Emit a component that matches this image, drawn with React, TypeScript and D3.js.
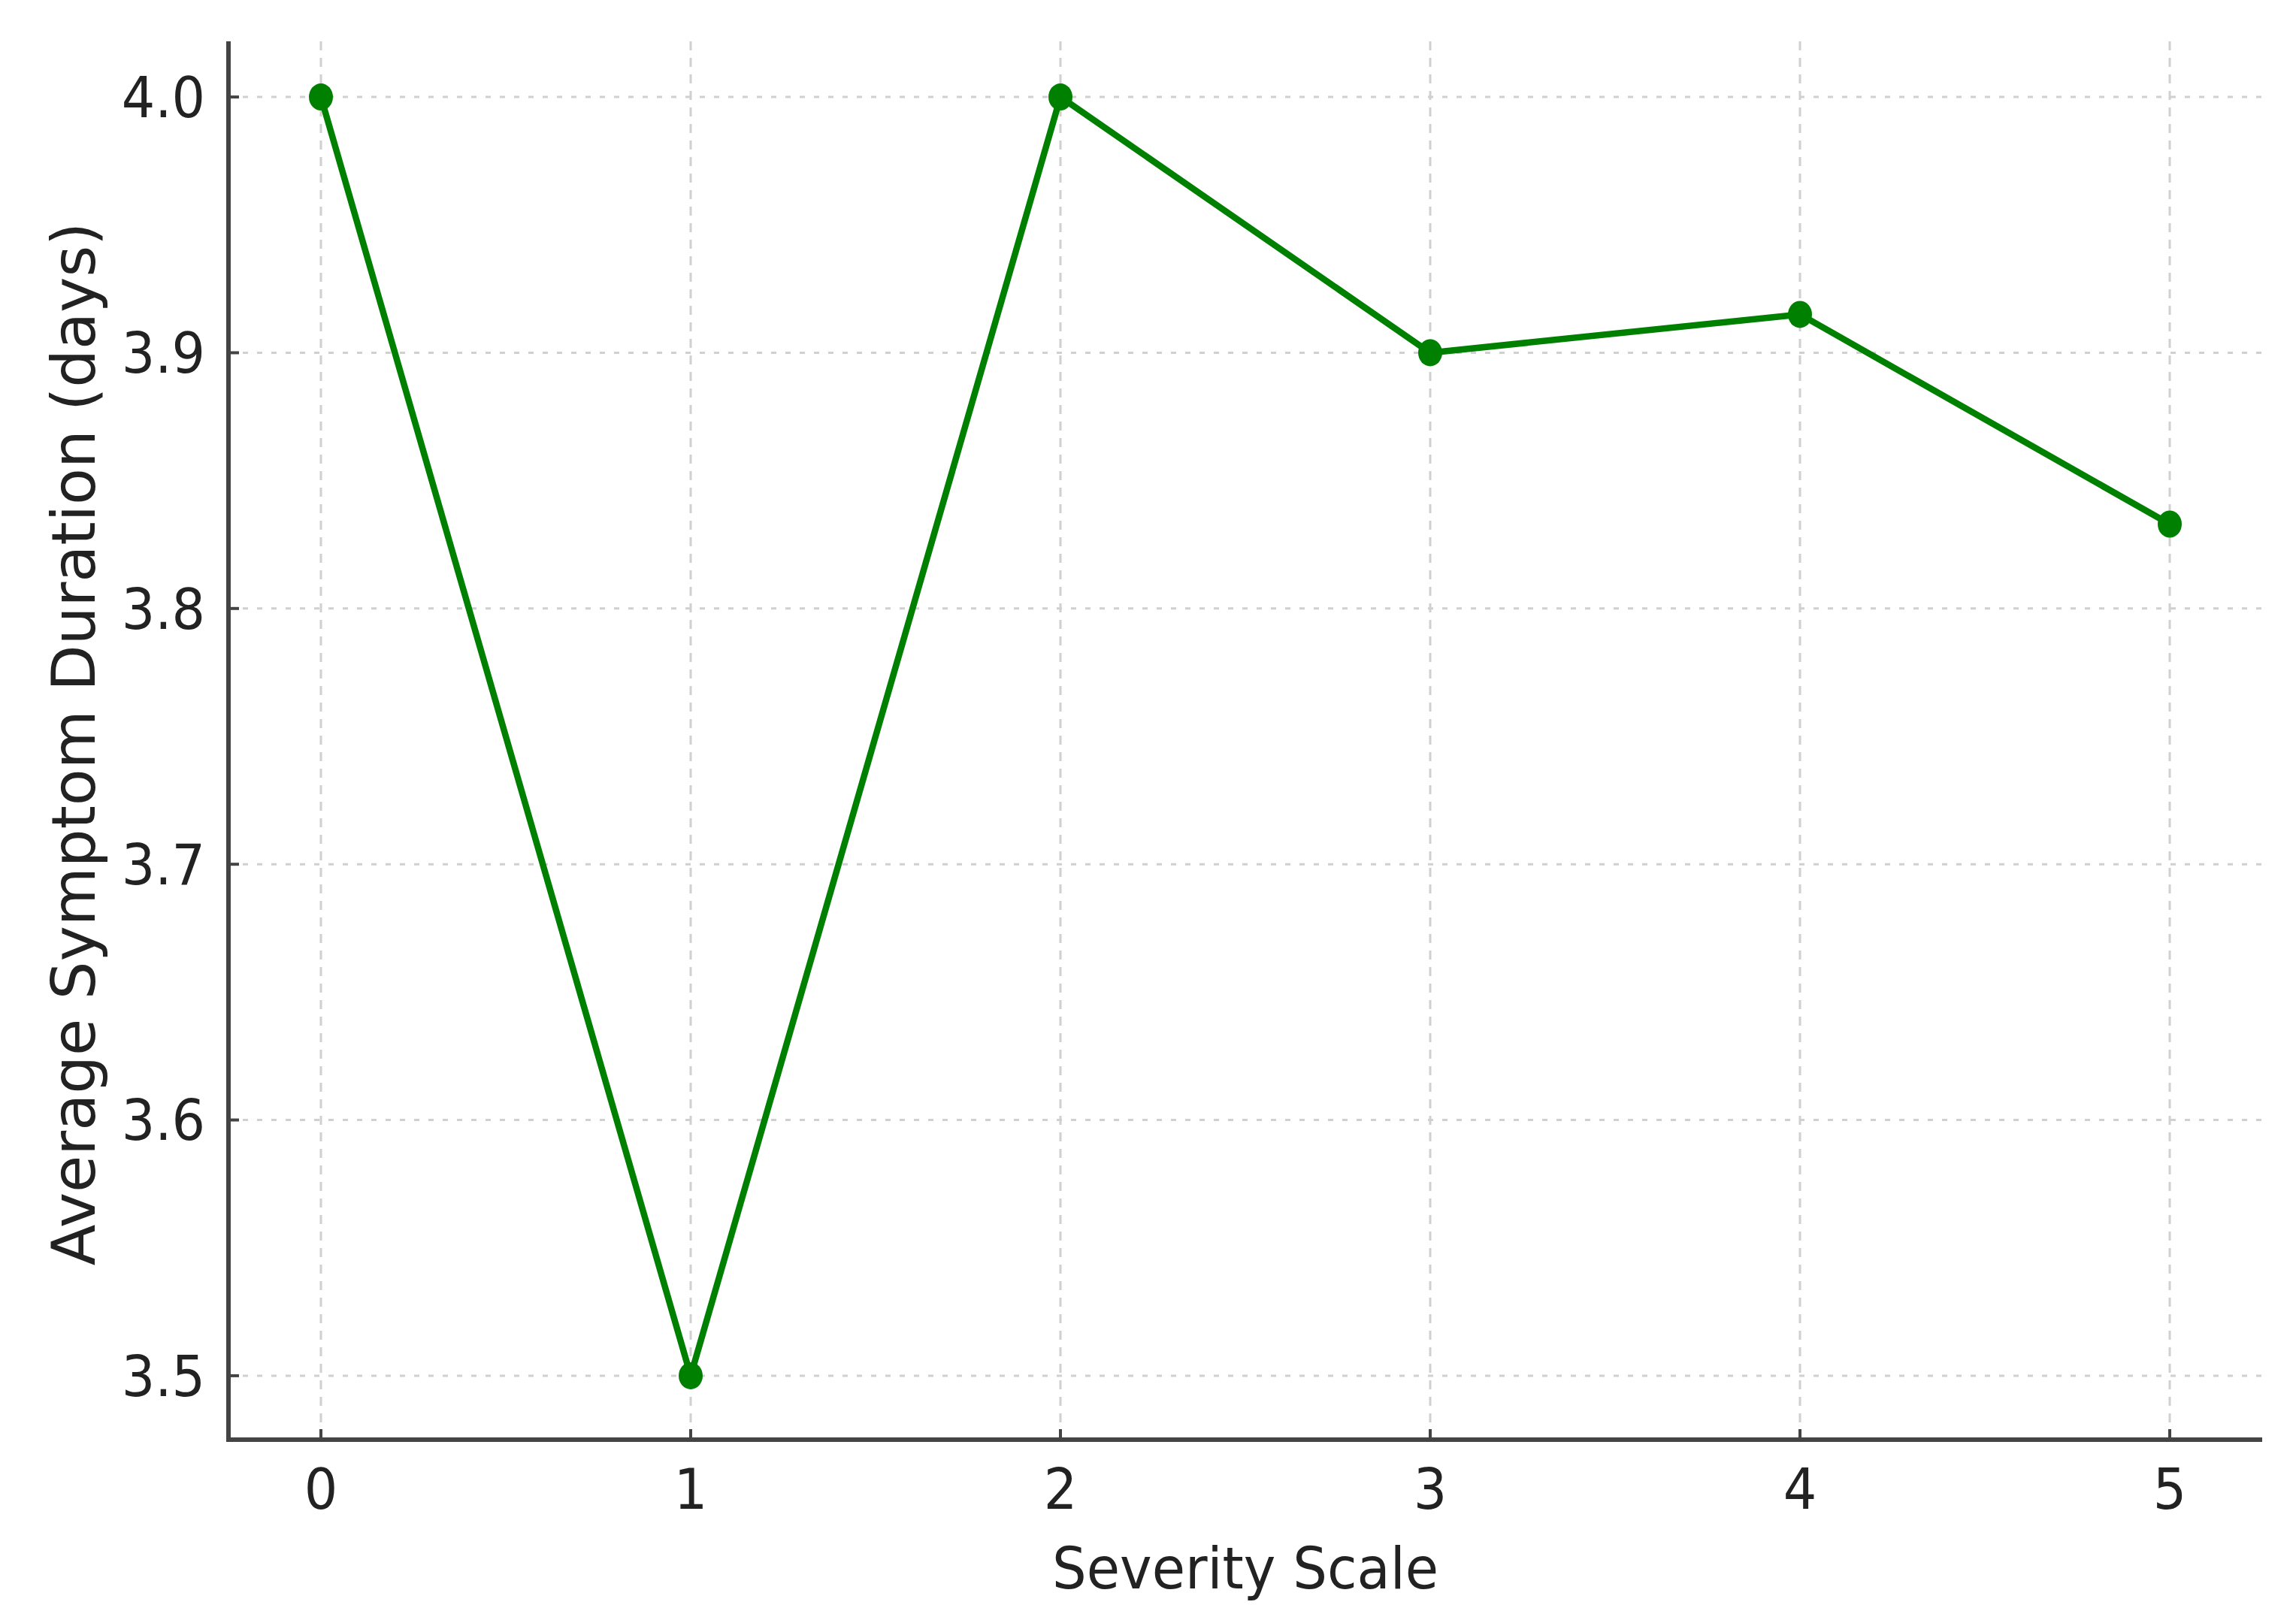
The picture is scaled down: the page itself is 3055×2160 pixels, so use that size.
import React from "react";
import * as d3 from "d3";

const severity = [0, 1, 2, 3, 4, 5];
const duration = [4.0, 3.5, 4.0, 3.9, 3.915, 3.833];
const yTicks = [3.5, 3.6, 3.7, 3.8, 3.9, 4.0];
const xTicks = [0, 1, 2, 3, 4, 5];
const xLabel = "Severity Scale";
const yLabel = "Average Symptom Duration (days)";

const W = 3055;
const H = 2160;
const left = 304;
const right = 3010;
const top = 44;
const bottom = 1916;
const spineTop = 55;

export default function App() {
  const x = d3.scaleLinear().domain([-0.25, 5.25]).range([left, right]);
  const y = d3.scaleLinear().domain([3.475, 4.025]).range([bottom, top]);
  const line = d3
    .line<number>()
    .x((_, i) => x(severity[i]))
    .y((d) => y(d));
  const font = "'DejaVu Sans', sans-serif";
  const axisColor = "#444";
  return (
    <svg
      width={W}
      height={H}
      style={{ position: "absolute", left: 0, top: 0, background: "#fff" }}
      fontFamily={font}
    >
      <rect x={0} y={0} width={W} height={H} fill="#fff" />
      {xTicks.map((t) => (
        <line
          key={"gx" + t}
          x1={x(t)}
          x2={x(t)}
          y1={spineTop}
          y2={bottom}
          stroke="#d0d0d0"
          strokeWidth={3}
          strokeDasharray="12 10"
        />
      ))}
      {yTicks.map((t) => (
        <line
          key={"gy" + t}
          x1={left}
          x2={right}
          y1={y(t)}
          y2={y(t)}
          stroke="#d0d0d0"
          strokeWidth={3}
          strokeDasharray="7 12"
        />
      ))}
      <path
        d={line(duration) || ""}
        fill="none"
        stroke="#008000"
        strokeWidth={8.5}
        strokeLinejoin="round"
      />
      {duration.map((d, i) => (
        <ellipse
          key={"m" + i}
          cx={x(severity[i])}
          cy={y(d)}
          rx={16}
          ry={18}
          fill="#008000"
        />
      ))}
      <line x1={left} x2={left} y1={spineTop} y2={bottom + 3} stroke={axisColor} strokeWidth={6} />
      <line x1={left - 3} x2={right} y1={bottom} y2={bottom} stroke={axisColor} strokeWidth={6} />
      {xTicks.map((t) => (
        <g key={"xt" + t}>
          <line x1={x(t)} x2={x(t)} y1={bottom} y2={bottom - 14} stroke={axisColor} strokeWidth={4} />
          <text
            transform={`translate(${x(t)}, 2008) scale(1, 1.06)`}
            textAnchor="middle"
            fontSize={70}
            fill="#222"
          >
            {t}
          </text>
        </g>
      ))}
      {yTicks.map((t) => (
        <g key={"yt" + t}>
          <line x1={left} x2={left + 14} y1={y(t)} y2={y(t)} stroke={axisColor} strokeWidth={4} />
          <text
            transform={`translate(273, ${y(t)}) scale(1, 1.06)`}
            dy="0.36em"
            textAnchor="end"
            fontSize={70}
            fill="#222"
          >
            {d3.format(".1f")(t)}
          </text>
        </g>
      ))}
      <text
        transform={`translate(${(left + right) / 2}, 2114) scale(1, 1.06)`}
        textAnchor="middle"
        fontSize={72}
        fill="#222"
      >
        {xLabel}
      </text>
      <text
        transform={`translate(126, ${(top + bottom) / 2 + 10}) rotate(-90)`}
        textAnchor="middle"
        fontSize={80}
        fill="#222"
      >
        {yLabel}
      </text>
    </svg>
  );
}
